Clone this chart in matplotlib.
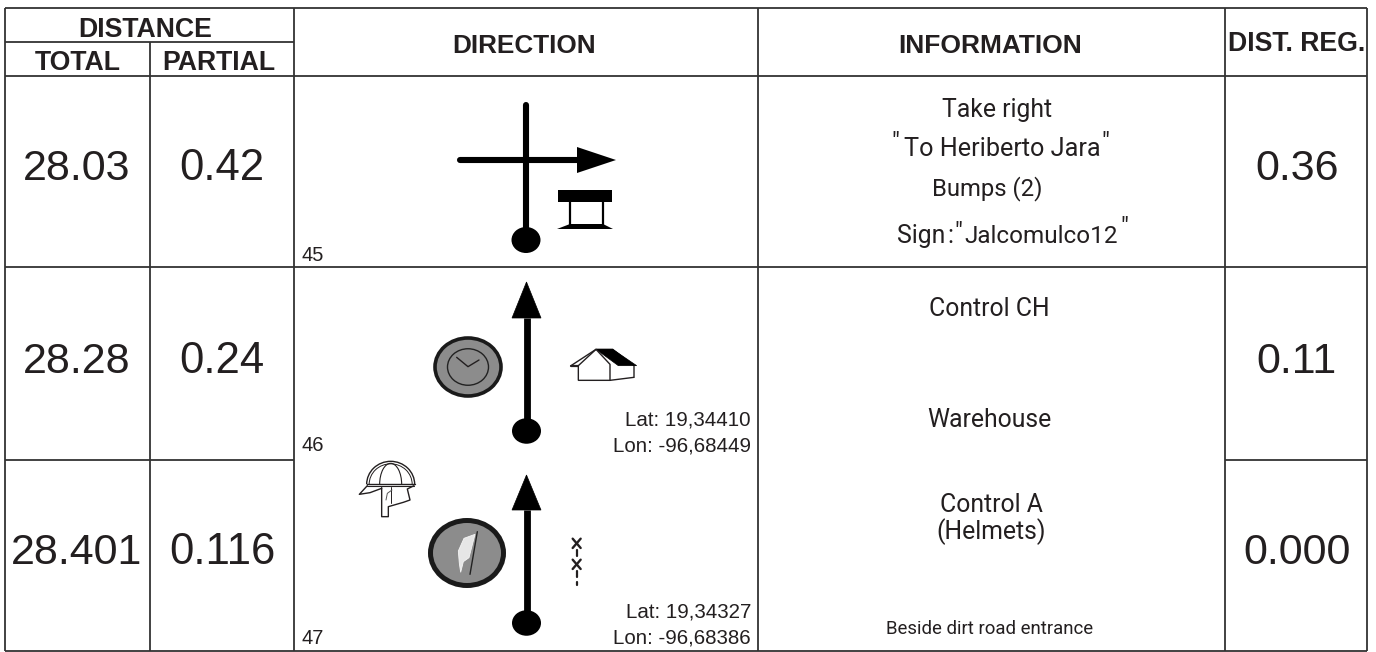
import matplotlib
matplotlib.use('Agg')
import matplotlib.pyplot as plt
from matplotlib.patches import Ellipse, Polygon, Rectangle, Arc

# table contents
headers = ['DIRECTION', 'INFORMATION', 'DIST. REG.']
sub_headers = ['TOTAL', 'PARTIAL']
total_dist = ['28.03', '28.28', '28.401']
partial_dist = ['0.42', '0.24', '0.116']
reg_dist = ['0.36', '0.11', '0.000']
row_numbers = ['45', '46', '47']
latitudes = ['Lat: 19,34410', 'Lat: 19,34327']
longitudes = ['Lon: -96,68449', 'Lon: -96,68386']

INK = '#231f20'
LINE = '#333333'
SANS = 'Liberation Sans'

fig = plt.figure(figsize=(13.76, 6.52), dpi=100)
ax = fig.add_axes([0, 0, 1, 1])
ax.set_xlim(0, 1376)
ax.set_ylim(652, 0)
ax.axis('off')


def hline(y, x0, x1):
    ax.plot([x0, x1], [y, y], color=LINE, lw=1.3, solid_capstyle='butt')


def vline(x, y0, y1):
    ax.plot([x, x], [y0, y1], color=LINE, lw=1.3, solid_capstyle='butt')


def z(pts):
    return [(290 + a / 3, 265 + b / 3) for a, b in pts]


def zline(pts, lw=1.0, color=INK):
    xy = z(pts)
    ax.plot([p[0] for p in xy], [p[1] for p in xy], color=color, lw=lw,
            solid_capstyle='round', solid_joinstyle='round')


def arrow_up(x, tip, base, dot):
    ax.add_patch(Polygon([(x, tip), (x - 14.5, base), (x + 14.5, base)], fc='black', ec='black', lw=0.5))
    ax.plot([x, x], [base, dot], color='black', lw=4.9, solid_capstyle='butt')
    ax.add_patch(Ellipse((x, dot), 29, 25.5, fc='black', ec='none'))


# grid
for y in [8, 76, 267, 651]:
    hline(y, 5, 1367)
hline(42, 5, 294)
hline(460, 5, 294)
hline(460, 1225, 1367)
for x in [5, 294, 758, 1225, 1367]:
    vline(x, 8, 651)
vline(150, 42, 651)

# header
head = dict(fontweight='bold', family=SANS, color=INK, ha='center', va='center')
ax.text(145, 30, 'DISTANCE', fontsize=19.2, **head)
ax.text(77.5, 63, sub_headers[0], fontsize=19.2, **head)
ax.text(218.5, 63, sub_headers[1], fontsize=19.2, **head)
ax.text(524, 46, headers[0], fontsize=18.8, **head)
ax.text(990, 46, headers[1], fontsize=19, **head)
ax.text(1297, 44, headers[2], fontsize=19.2, **head)

# distances
baselines = [180, 373, 564]
for i, base in enumerate(baselines):
    ax.text(77, base, total_dist[i], fontsize=31, family=SANS, color=INK, ha='center', va='baseline')
    ax.text(222, base, partial_dist[i], fontsize=31.5, family=SANS, color=INK, ha='center', va='baseline')
    ax.text(1297, base, reg_dist[i], fontsize=31, family=SANS, color=INK, ha='center', va='baseline')

# row numbers and coordinates
for num, y in zip(row_numbers, [261, 451, 644]):
    ax.text(302, y, num, fontsize=14.5, family=SANS, color=INK, ha='left', va='baseline')
for i, y in enumerate([426, 617]):
    ax.text(751, y, latitudes[i], fontsize=14.8, family=SANS, color=INK, ha='right', va='baseline')
    ax.text(751, y + 26, longitudes[i], fontsize=14.8, family=SANS, color=INK, ha='right', va='baseline')

# row 45: turn right with a bridge symbol
ax.plot([526, 526], [105, 240], color='black', lw=4.4, solid_capstyle='round')
ax.add_patch(Ellipse((526, 240), 29, 26, fc='black', ec='none'))
ax.plot([460, 580], [160, 160], color='black', lw=4.4, solid_capstyle='round')
ax.add_patch(Polygon([(577, 147), (616, 160), (577, 173)], fc='black', ec='none'))
ax.add_patch(Rectangle((558, 190), 54, 12, fc='black', ec='none'))
ax.plot([570, 570], [202, 226], color='black', lw=1.6)
ax.plot([603, 603], [202, 226], color='black', lw=1.6)
ax.add_patch(Polygon([(557, 229), (570, 224), (603, 224), (613, 229)], fc='black', ec='none'))

# row 46: arrow, clock, house
arrow_up(526.5, 282, 318, 431)
ax.add_patch(Ellipse((468, 367), 66, 58, fc='#8c8c8c', ec='#1a1a1a', lw=2.6))
ax.add_patch(Ellipse((468, 367), 41, 36.5, fc='none', ec='#222222', lw=1.0))
zline([(500, 277), (534, 305), (567, 285)], lw=1.0)
ax.add_patch(Polygon(z([(865, 302), (865, 346), (960, 346), (1032, 337), (1032, 302), (968, 253), (918, 253)]),
                     fc='white', ec=INK, lw=1.0))
ax.add_patch(Polygon(z([(918, 253), (968, 253), (1040, 302), (985, 302)]), fc='black', ec='black', lw=0.5))
zline([(843, 302), (918, 253), (960, 298), (960, 346)], lw=1.0)
zline([(843, 302), (865, 302)], lw=1.6)

# row 47: arrow, flag control, helmet, fence
arrow_up(526.5, 475, 510, 623)
ax.add_patch(Ellipse((467, 553), 73, 65, fc='#8c8c8c', ec='#1a1a1a', lw=3.6))
ax.add_patch(Polygon(z([(555, 808), (522, 820), (505, 858), (508, 895), (512, 922), (520, 890), (537, 878)]),
                     fc='#e6e6e6', ec='#f5f5f5', lw=0.6))
zline([(562, 800), (540, 928)], lw=1.0, color='#222222')

dome = z([(302, 658)])[0]
ax.add_patch(Arc(dome, 48, 46, theta1=180, theta2=360, color=INK, lw=1.0))
ax.add_patch(Arc(dome, 43, 41, theta1=180, theta2=360, color=INK, lw=0.7))
ax.add_patch(Arc(dome, 22, 42, theta1=180, theta2=360, color=INK, lw=0.8))
zline([(230, 658), (375, 658)], lw=1.0)
zline([(232, 664), (372, 664)], lw=0.8)
zline([(232, 662), (208, 688), (240, 683), (275, 670)], lw=1.0)
zline([(275, 668), (275, 755), (295, 755), (295, 725), (340, 712), (360, 705), (352, 672), (372, 662)], lw=1.0)
zline([(303, 665), (303, 715)], lw=0.7)
zline([(288, 705), (292, 685), (306, 675)], lw=0.7, color='#555555')

# fence
for yz in [835, 898]:
    zline([(848, yz - 14), (872, yz + 14)], lw=1.7)
    zline([(872, yz - 14), (848, yz + 14)], lw=1.7)
zline([(860, 856), (860, 874)], lw=1.6)
zline([(860, 918), (860, 935)], lw=1.6)
zline([(860, 950), (860, 960)], lw=1.6)

# information column
info = dict(family='Roboto', color=INK, va='baseline')
ax.text(997, 117, 'Take right', fontsize=17.8, ha='center', **info)
ax.text(1002, 156, 'To Heriberto Jara', fontsize=18.2, ha='center', **info)
ax.text(895, 150, '"', fontsize=17.8, ha='center', **info)
ax.text(1105, 150, '"', fontsize=17.8, ha='center', **info)
ax.text(987, 195, 'Bumps (2)', fontsize=17.2, ha='center', **info)
ax.text(897, 243, 'Sign', fontsize=17.8, ha='left', **info)
ax.text(950, 243, ':', fontsize=17.8, ha='center', **info)
ax.text(964, 243, 'Jalcomulco12', fontsize=17.5, ha='left', **info)
ax.text(958, 240, '"', fontsize=17.8, ha='center', **info)
ax.text(1124, 235, '"', fontsize=17.8, ha='center', **info)
ax.text(989, 316, 'Control CH', fontsize=17.8, ha='center', **info)
ax.text(989, 427, 'Warehouse', fontsize=17.8, ha='center', **info)
ax.text(991, 512, 'Control A', fontsize=17.8, ha='center', **info)
ax.text(991, 539, '(Helmets)', fontsize=17.8, ha='center', **info)
ax.text(990, 634, 'Beside dirt road entrance', fontsize=13.4, ha='center', **info)

fig.savefig('out.png', dpi=100)
